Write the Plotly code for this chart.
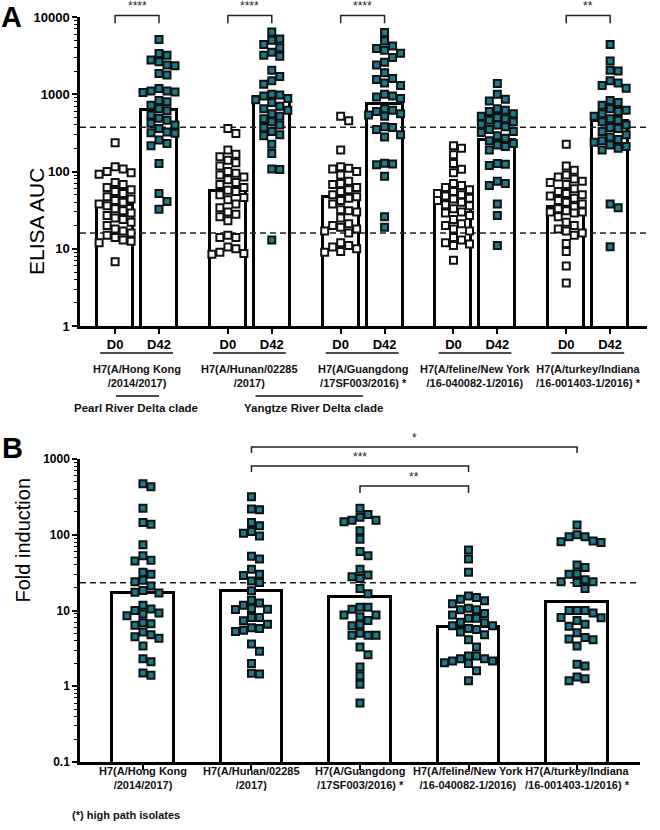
import numpy as np
import plotly.graph_objects as go

# ---------------- data ----------------
strains = ["H7(A/Hong Kong<br>/2014/2017)", "H7(A/Hunan/02285<br>/2017)",
           "H7(A/Guangdong<br>/17SF003/2016) *", "H7(A/feline/New York<br>/16-040082-1/2016)",
           "H7(A/turkey/Indiana<br>/16-001403-1/2016) *"]
timepoints = ["D0", "D42"]

auc_d0_hk = [235,115,108,100,96,92,72,68,62,58,55,52,47,44,42,40,38,36,33,31,29,27,25,24,22,20,18,17,16,15,14,13,12.5,12,6.8]
auc_d0_hunan = [360,310,190,167,155,140,130,118,100,95,90,85,78,72,68,62,57,55,50,46,43,38,34,30,28,26,23,15,14,14,10.5,10,9,8.7,8.5]
auc_d0_guangdong = [520,455,190,115,110,108,100,90,75,70,68,62,58,55,50,47,45,42,38,32,31,30,25,21,20,19,18,17,16,12,11,10.5,10,9.2,9]
auc_d0_feline = [215,200,165,127,107,96,70,66,62,58,55,52,50,48,45,44,42,40,37,36,33,30,29,27,24,21,20,18,17,14,13,12,11.5,11,7.1]
auc_d0_turkey = [225,118,104,90,85,80,75,72,68,60,55,52,50,48,45,42,40,38,35,33,31,30,30,29,26,22,20,18,17,16,15,11.7,9.2,6.0,3.6]

auc_d42_hk = [5100,3370,3200,2770,2630,2400,2330,1860,1780,1190,1100,1100,1070,1050,830,800,720,650,610,540,490,460,420,400,360,325,317,312,256,230,215,127,52,41,32.5]
auc_d42_hunan = [6400,5200,5000,4400,4000,3500,3200,3100,2040,1700,1500,1350,1000,980,950,880,850,780,700,650,620,560,520,480,440,400,370,330,300,290,225,171,108,106,13]
auc_d42_guangdong = [6300,4900,4200,3900,3700,3400,3000,2600,2400,1900,1600,1550,1400,1300,1000,950,920,880,650,620,600,560,540,520,380,370,350,300,280,128,125,122,87,26,19]
auc_d42_feline = [1380,1000,860,820,650,620,600,560,520,500,480,460,440,410,400,380,350,330,320,290,270,250,230,220,210,190,127,124,120,75,70,66,38,27,11]
auc_d42_turkey = [4400,2700,2050,2000,1500,1400,1300,1200,830,780,720,650,620,600,560,520,480,460,440,400,370,360,330,300,280,260,250,240,220,210,200,190,38,34,10.6]

auc_d0_median = [36.7, 55.7, 46.6, 42.7, 34.6]
auc_d42_median = [623, 915, 745, 255, 448]
auc_cutoffs = [375, 16]
auc_sig = [(0, "****"), (1, "****"), (2, "****"), (4, "**")]

fold_hk = [470,430,224,145,138,74,53,46,45,32,30,25,24,21,18.3,17.4,17,11.7,10.5,10,9.3,9,8.5,6.9,6.7,6.4,5.2,4.8,4.5,4.3,3.4,2.3,2.1,1.5,1.4]
fold_hunan = [318,218,214,145,131,110,105,96,52,48,35,30,29,24.5,23.5,18.2,13.7,12.6,11.7,10.6,10.4,10.3,8.1,8.1,7.3,6.6,5.9,5.8,5.5,5.3,3.6,2.9,2.0,1.48,1.45]
fold_guangdong = [224,185,170,155,155,148,113,87,60,53,35,29.5,28,26.5,19.5,16.6,11,11,10.4,8.7,8.7,8.3,7.4,6.5,6.3,5.0,4.7,4.7,4.7,3.3,2.6,1.8,1.38,1.06,0.6]
fold_feline = [63,48,32,15.5,14.8,14.1,13.4,12.3,10.7,10.2,10.2,9.1,8.7,7.9,7.9,7.0,6.9,6.3,6.3,5.8,5.6,5.2,4.8,4.1,3.3,2.5,2.5,2.3,2.3,2.15,2.15,2.05,2.0,1.6,1.18]
fold_turkey = [134,100,94,94,83,81,79,40,37,30.5,30,25.5,24,24,23.5,19.5,10,10,10,9.3,8.1,8,7.4,6.6,6.2,5.1,4.4,4.2,4.1,3.4,1.95,1.85,1.32,1.26,1.18]
fold_median = [17, 18.2, 15.2, 6.0, 13.0]
fold_cutoff = 23.2
fold_sig = [(1, 4, "*"), (1, 3, "***"), (2, 3, "**")]  # top tier first

clades = [("Pearl River Delta clade", [0]), ("Yangtze River Delta clade", [1, 2])]
footnote = "(*) high path isolates"

auc_d0 = [auc_d0_hk, auc_d0_hunan, auc_d0_guangdong, auc_d0_feline, auc_d0_turkey]
auc_d42 = [auc_d42_hk, auc_d42_hunan, auc_d42_guangdong, auc_d42_feline, auc_d42_turkey]
fold = [fold_hk, fold_hunan, fold_guangdong, fold_feline, fold_turkey]

# ---------------- style ----------------
TEAL = "#1b7a8b"
FONT = "Liberation Sans, Arial, sans-serif"
W, H = 660, 830
GSTEP = 2.57
A_XR = [-0.8, 4 * GSTEP + 1 + 0.84]
B_XR = [-0.58, 4.58]
A_DOM_X = [80 / W, 647 / W]
A_DOM_Y = [1 - 326 / H, 1 - 17 / H]
B_DOM_X = [80 / W, 640 / W]
B_DOM_Y = [1 - 762 / H, 1 - 459 / H]


def px_per_unit(dom, rng, total):
    return (dom[1] - dom[0]) * total / (rng[1] - rng[0])


def swarm(vals, ux, uy, size, maxoff):
    vals = np.asarray(vals, dtype=float)
    offs = np.zeros(len(vals))
    pts = []
    cands = sorted(np.arange(-maxoff, maxoff + 0.01, 0.5), key=lambda c: (abs(c), -c))
    for k, i in enumerate(np.argsort(-vals)):
        y = np.log10(vals[i]) * uy
        best, bestcost = 0.0, 1e18
        for c in cands:
            cost = 0.0
            for (px, py) in pts:
                ox = size - abs(c - px)
                oy = size - abs(y - py)
                if ox > 0 and oy > 0:
                    cost += ox * oy
            if cost == 0:
                best = c
                break
            if cost < bestcost:
                bestcost, best = cost, c
        offs[i] = best
        pts.append((best, y))
    return offs / ux


fig = go.Figure()

# ---------- Panel A ----------
uxA = px_per_unit(A_DOM_X, A_XR, W)
uyA = (A_DOM_Y[1] - A_DOM_Y[0]) * H / 4
pos_d0 = [g * GSTEP for g in range(5)]
pos_d42 = [g * GSTEP + 1 for g in range(5)]

fig.add_trace(go.Bar(x=pos_d0 + pos_d42, y=auc_d0_median + auc_d42_median, width=0.82,
                     marker=dict(color="white", line=dict(color="black", width=3)),
                     xaxis="x", yaxis="y", showlegend=False, hoverinfo="skip"))
for c in auc_cutoffs:
    fig.add_trace(go.Scatter(x=A_XR, y=[c, c], mode="lines", xaxis="x", yaxis="y",
                             line=dict(color="#222", width=1.5, dash="6px,4px"),
                             showlegend=False, hoverinfo="skip"))
for g in range(5):
    for vals, p, fill in [(auc_d0[g], pos_d0[g], "white"), (auc_d42[g], pos_d42[g], TEAL)]:
        off = swarm(vals, uxA, uyA, 8.0, 16)
        fig.add_trace(go.Scatter(x=p + off, y=vals, mode="markers", xaxis="x", yaxis="y",
                                 marker=dict(symbol="square", size=7, color=fill,
                                             line=dict(color="#111", width=2)),
                                 showlegend=False, cliponaxis=False))

# ---------- Panel B ----------
uxB = px_per_unit(B_DOM_X, B_XR, W)
uyB = (B_DOM_Y[1] - B_DOM_Y[0]) * H / 4
pos_b = list(range(5))
fig.add_trace(go.Bar(x=pos_b, y=fold_median, width=0.57,
                     marker=dict(color="white", line=dict(color="black", width=3)),
                     xaxis="x2", yaxis="y2", showlegend=False, hoverinfo="skip"))
fig.add_trace(go.Scatter(x=B_XR, y=[fold_cutoff, fold_cutoff], mode="lines", xaxis="x2", yaxis="y2",
                         line=dict(color="#222", width=1.5, dash="6px,4px"),
                         showlegend=False, hoverinfo="skip"))
for g in range(5):
    off = swarm(fold[g], uxB, uyB, 8.0, 26)
    fig.add_trace(go.Scatter(x=pos_b[g] + off, y=fold[g], mode="markers", xaxis="x2", yaxis="y2",
                             marker=dict(symbol="square", size=7, color=TEAL,
                                         line=dict(color="#111", width=2)),
                             showlegend=False, cliponaxis=False))

# ---------- axes ----------
def minor_vals(lo, hi):
    return [m * 10.0 ** e for e in range(lo, hi) for m in range(2, 10)]

tickfontA = dict(family=FONT, size=13, color="black", weight="bold")
tickfontB = dict(family=FONT, size=12, color="black", weight="bold")
axis_common = dict(showline=True, linecolor="black", linewidth=2.5, showgrid=False, automargin=False,
                   zeroline=False, ticks="outside", tickcolor="black", tickwidth=2, ticklen=5)

fig.update_layout(
    template="none",
    width=W, height=H, margin=dict(l=0, r=0, t=0, b=0, pad=0, autoexpand=False),
    paper_bgcolor="white", plot_bgcolor="white", showlegend=False, bargap=0,
    font=dict(family=FONT, color="black"),
    xaxis=dict(domain=A_DOM_X, range=A_XR, anchor="y", tickvals=pos_d0 + pos_d42,
               ticktext=[timepoints[0]] * 5 + [timepoints[1]] * 5, tickfont=tickfontA, **axis_common),
    yaxis=dict(domain=A_DOM_Y, type="log", range=[0, 4], anchor="x",
               tickvals=[1, 10, 100, 1000, 10000], ticktext=["1", "10", "100", "1000", "10000"],
               tickfont=tickfontA,
               minor=dict(tickvals=minor_vals(0, 4), ticks="outside", ticklen=3, tickwidth=1,
                          tickcolor="black", showgrid=False),
               **axis_common),
    xaxis2=dict(domain=B_DOM_X, range=B_XR, anchor="y2", tickvals=pos_b, ticktext=[""] * 5,
                **axis_common),
    yaxis2=dict(domain=B_DOM_Y, type="log", range=[-1, 3], anchor="x2",
                tickvals=[0.1, 1, 10, 100, 1000], ticktext=["0.1", "1", "10", "100", "1000"],
                tickfont=tickfontB,
                minor=dict(tickvals=minor_vals(-1, 3), ticks="outside", ticklen=3, tickwidth=1,
                           tickcolor="black", showgrid=False),
                **axis_common),
)

shapes = []
ann = []
lab = dict(family=FONT, size=11, color="#111", weight="bold")

# Panel A brackets
for g, s in auc_sig:
    x0, x1 = pos_d0[g], pos_d42[g]
    shapes.append(dict(type="path", xref="x", yref="y domain",
                       path=f"M {x0},0.98 L {x0},1.005 L {x1},1.005 L {x1},0.98",
                       line=dict(color="#222", width=1.5)))
    ann.append(dict(x=(x0 + x1) / 2, y=1.005, xref="x", yref="y domain", text=s, showarrow=False,
                    yanchor="bottom", font=dict(family=FONT, size=12, color="#222")))

# Panel A labels
for g in range(5):
    shapes.append(dict(type="line", xref="x", yref="paper", x0=pos_d0[g] - 0.34, x1=pos_d42[g] + 0.32,
                       y0=1 - 353 / H, y1=1 - 353 / H, line=dict(color="#111", width=1.5)))
    ann.append(dict(x=pos_d0[g] + 0.5, y=1 - 375.5 / H, xref="x", yref="paper", text=strains[g],
                    showarrow=False, font=lab, align="center"))
clade_span = {0: (0.02, 1.0, 0.48), 1: (3.2, 5.65, 4.51)}
for k, (name, gs) in enumerate(clades):
    x0, x1, xc = clade_span[k]
    shapes.append(dict(type="line", xref="x", yref="paper", x0=x0, x1=x1,
                       y0=1 - 396 / H, y1=1 - 396 / H, line=dict(color="#111", width=1.5)))
    ann.append(dict(x=xc, y=1 - 408 / H, xref="x", yref="paper", text=name, showarrow=False,
                    font=dict(family=FONT, size=11.5, color="#111", weight="bold")))

# Panel B brackets
tiers = [(1.04, 1.02), (0.977, 0.957), (0.911, 0.888)]
for (a, b, s), (top, tip) in zip(fold_sig, tiers):
    shapes.append(dict(type="path", xref="x2", yref="y2 domain",
                       path=f"M {a},{tip} L {a},{top} L {b},{top} L {b},{tip}",
                       line=dict(color="#222", width=1.5)))
    ann.append(dict(x=(a + b) / 2, y=top, xref="x2", yref="y2 domain", text=s, showarrow=False,
                    yanchor="bottom", font=dict(family=FONT, size=12, color="#222")))

for g in range(5):
    ann.append(dict(x=pos_b[g], y=1 - 792.5 / H, xref="x2", yref="paper", text=strains[g],
                    showarrow=False, font=lab, align="center"))
ann.append(dict(x=70 / W, y=1 - 823 / H, xref="paper", yref="paper", text=footnote, showarrow=False,
                xanchor="left", font=lab))

# Panel letters and axis titles
ann.append(dict(x=0, y=1, xref="paper", yref="paper", text="A", showarrow=False,
                xanchor="left", yanchor="top", borderpad=0,
                font=dict(family=FONT, size=29, color="black", weight="bold")))
ann.append(dict(x=0, y=1 - 448 / H, xref="paper", yref="paper", text="B", showarrow=False,
                xanchor="left", font=dict(family=FONT, size=29, color="black", weight="bold")))
ann.append(dict(x=23 / W, y=1 - 166 / H, xref="paper", yref="paper", text="ELISA AUC", showarrow=False,
                textangle=-90, font=dict(family=FONT, size=21, color="black")))
ann.append(dict(x=9 / W, y=1 - 605 / H, xref="paper", yref="paper", text="Fold induction", showarrow=False,
                textangle=-90, font=dict(family=FONT, size=20, color="black")))

fig.update_layout(shapes=shapes, annotations=ann)
fig.write_html("out.html", config={"displayModeBar": False},
               post_script="document.body.style.margin='0px';")
